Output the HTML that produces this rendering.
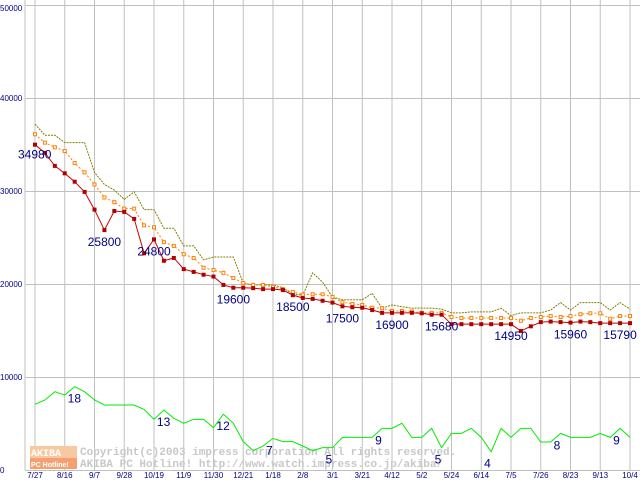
<!DOCTYPE html>
<html><head><meta charset="utf-8"><style>
body{margin:0;background:#fff;}
svg{display:block;font-family:"Liberation Sans",sans-serif;}
</style></head><body>
<svg id="chart" width="640" height="480" viewBox="0 0 640 480" xmlns="http://www.w3.org/2000/svg">
<g id="grid"></g>
<g id="watermark">
  <rect x="30" y="446" width="47" height="12" fill="#f8c8a0"/>
  <rect x="30" y="458" width="47" height="11" fill="#f4a070"/>
  <text x="31" y="456" font-size="10" font-weight="bold" fill="#fff" font-family="Liberation Mono, monospace">AKIBA</text>
  <text x="31" y="467" font-size="7" font-weight="bold" fill="#fff">PC Hotline!</text>
  <text x="80" y="455" font-size="11" font-weight="bold" fill="#c8c8c8" font-family="Liberation Mono, monospace">Copyright(c)2003 impress corporation All rights reserved.</text>
  <text x="80" y="467" font-size="11" font-weight="bold" fill="#c8c8c8" font-family="Liberation Mono, monospace">AKIBA PC Hotline!  http://www.watch.impress.co.jp/akiba/</text>
</g>
<g id="series"></g>
<g id="labels"></g>
</svg>
<script>
const xLabels=["7/27","8/16","9/7","9/28","10/19","11/9","11/30","12/21","1/18","2/8","3/1","3/21","4/12","5/2","5/24","6/14","7/5","7/26","8/23","9/13","10/4"];
const yTicks=[0,10000,20000,30000,40000,50000];
const minPrice=[34980,34100,32700,31900,31000,29900,28000,25800,27850,27750,27000,23300,24800,22500,22800,21600,21300,21000,20800,19900,19600,19600,19550,19450,19450,19350,18800,18500,18400,18200,18000,17600,17500,17450,17200,16900,16900,16900,16900,16850,16700,16700,15680,15680,15680,15680,15680,15680,15680,14950,15450,15900,15960,15900,15850,15960,15900,15790,15790,15790,15790];
const avgPrice=[36100,35200,34700,34300,33000,32000,30700,29300,28800,28100,28100,26300,26100,24500,24100,23200,22800,21750,21500,21200,20650,20100,19900,19900,19700,19450,19150,18850,18900,18900,18600,18050,17850,17750,17450,17400,17100,17100,17050,16900,16900,16900,16450,16350,16350,16350,16350,16350,16350,16050,16350,16450,16550,16450,16550,16750,16850,16850,16250,16550,16550];
const maxPrice=[37200,36000,36000,35200,35200,35200,32000,30700,30100,29100,29900,28000,28000,26000,26000,24100,24100,22600,22900,22900,22900,20100,19900,19900,19900,19600,18900,18800,21200,20200,18600,18300,18300,18300,19000,17400,17750,17550,17400,17400,17400,17300,16900,16900,17000,17000,17000,17400,16600,16900,16900,16900,17200,18000,17200,18000,18000,18000,17200,18000,17300];
const shopCount=[7060,7530,8420,8060,8960,8420,7530,6990,6990,6990,6990,6520,5450,6450,5560,5020,5450,5450,4550,6000,5020,3050,2080,2580,3400,3050,3050,2580,2080,2400,2400,3510,3510,3510,3510,4480,4480,5020,3510,3510,4480,2400,3940,3940,4480,3510,1970,4480,3510,4480,4480,3010,3010,3940,3510,3510,3510,3940,3510,4480,3510];
const priceLabels=[[0,"34980"],[7,"25800"],[12,"24800"],[20,"19600"],[26,"18500"],[31,"17500"],[36,"16900"],[41,"15680"],[48,"14950"],[54,"15960"],[59,"15790"]];
const countLabels=[[4,"18"],[13,"13"],[19,"12"],[24,"7"],[30,"5"],[35,"9"],[41,"5"],[46,"4"],[53,"8"],[59,"9"]];

const NS="http://www.w3.org/2000/svg";
const N=minPrice.length;
const x=i=>35+i*(595/(N-1));
const y=v=>470-v*0.0093;
function mk(tag,attrs,parent){const e=document.createElementNS(NS,tag);for(const k in attrs)e.setAttribute(k,attrs[k]);parent.appendChild(e);return e;}
const grid=document.getElementById('grid'),ser=document.getElementById('series'),lab=document.getElementById('labels');
mk('rect',{x:0,y:0,width:640,height:480,fill:'#fff'},grid);
mk('line',{x1:25,y1:0,x2:25,y2:470,stroke:'#c0c0c0','stroke-width':1},grid);
yTicks.forEach(v=>{
  const l=mk('line',{x1:25,y1:y(v)+0.5,x2:640,y2:y(v)+0.5,stroke:'#c0c0c0','stroke-width':1},grid);
  
  
  const t=mk('text',{x:0,y:y(v)+(v==50000?6:3),'font-size':8,fill:'#000080'},grid);
  t.textContent=String(v);
  
  
});
xLabels.forEach((s,k)=>{
  const xx=x(k*3);
  const l=mk('line',{x1:xx,y1:0,x2:xx,y2:470,stroke:'#c0c0c0','stroke-width':1},grid);
  
  
  const t=mk('text',{x:xx,y:478,'font-size':8,fill:'#000080','text-anchor':'middle'},grid);
  t.textContent=s;
  
  
});
function line(data,color,dash,name){
  const p=mk('polyline',{points:data.map((v,i)=>x(i)+','+y(v)).join(' '),fill:'none',stroke:color,'stroke-width':1,'stroke-dasharray':dash||'none'},ser);
  
  
}
line(shopCount,'#00ee00',null,'shop-count-line');
line(maxPrice,'#808000','2,1','max-price-line');
line(avgPrice,'#ff8000','2,2','avg-price-line');
avgPrice.forEach((v,i)=>{
  const r=mk('rect',{x:x(i)-1.5,y:y(v)-1.5,width:3,height:3,fill:'#fff',stroke:'#ff8000','stroke-width':1},ser);
  
  
});
line(minPrice,'#cc0000',null,'min-price-line');
minPrice.forEach((v,i)=>{
  const r=mk('rect',{x:x(i)-2,y:y(v)-2,width:4,height:4,fill:'#b00000'},ser);
  
  
});
priceLabels.forEach(([i,s])=>{
  const t=mk('text',{x:i==0?18:x(i),y:y(minPrice[i])+(i==0?14:16),'font-size':12,fill:'#000080','text-anchor':i==0?'start':'middle'},lab);
  t.textContent=s;
  
  
});
countLabels.forEach(([i,s])=>{
  const t=mk('text',{x:x(i)-7,y:y(shopCount[i])+16,'font-size':12,fill:'#000080'},lab);
  t.textContent=s;
  
  
});
</script>
</body></html>
